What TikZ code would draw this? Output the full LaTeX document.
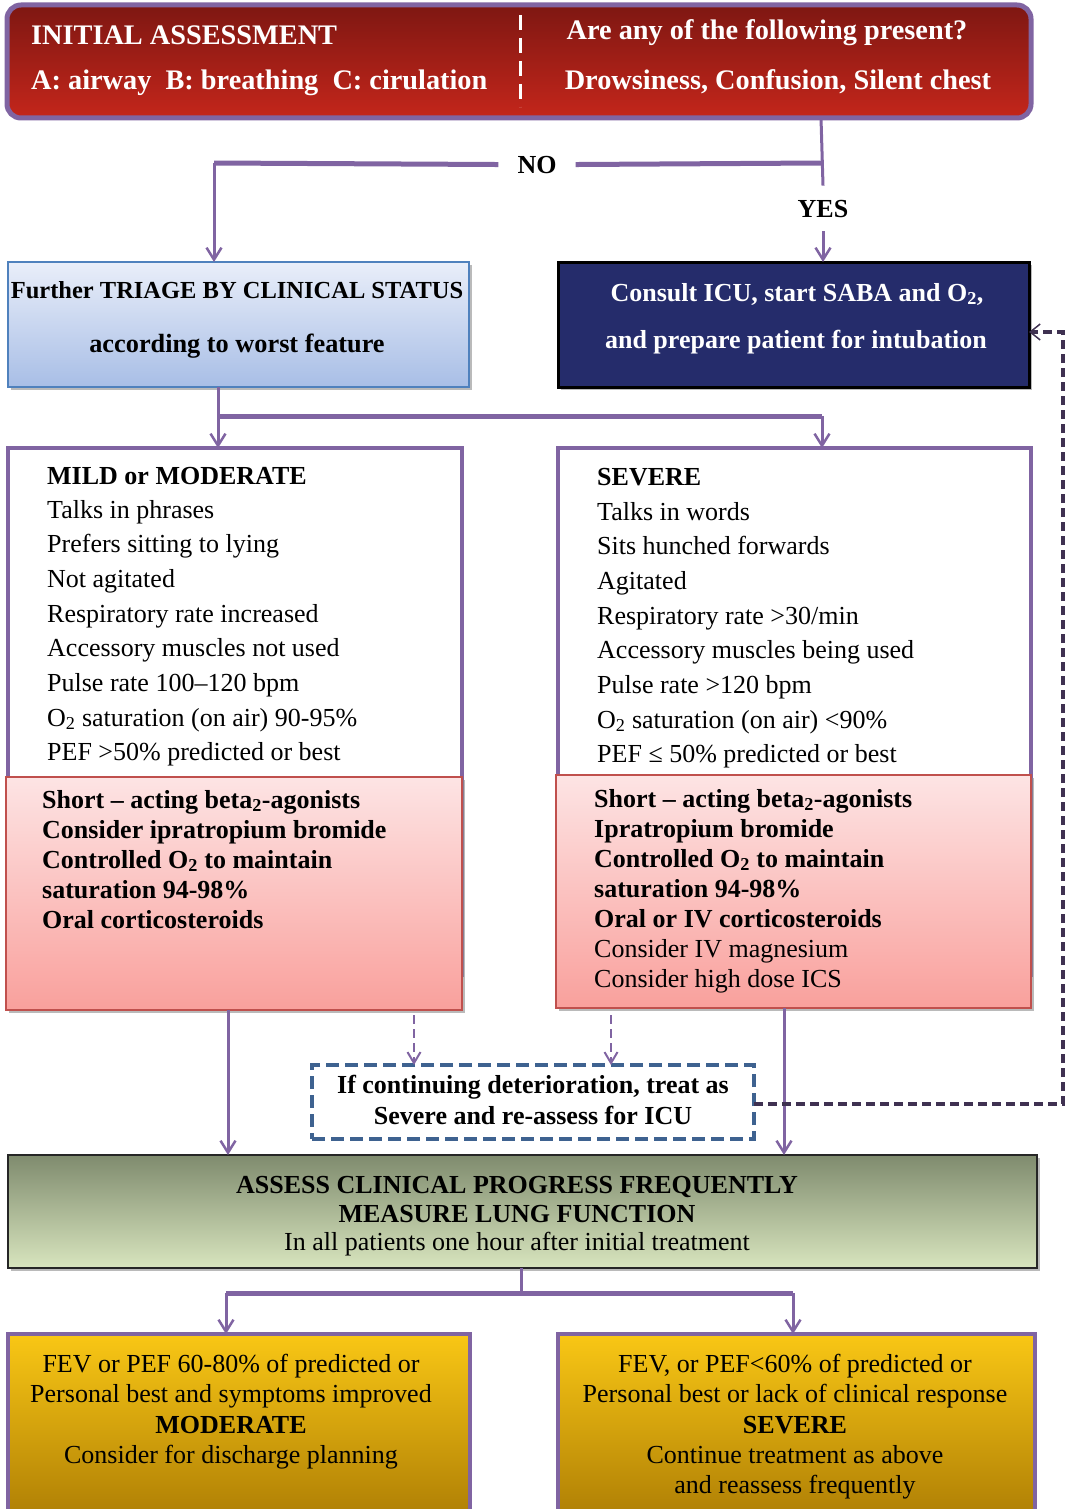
\documentclass[tikz,border=0pt]{standalone}
\usepackage{fontspec}
\setmainfont{Liberation Serif}
\usetikzlibrary{arrows.meta,shadows}
\definecolor{purp}{HTML}{8064A2}
\definecolor{redtop}{HTML}{7E1712}
\definecolor{redbot}{HTML}{C4261B}
\definecolor{bluetop}{HTML}{E9EEF9}
\definecolor{bluebot}{HTML}{A8BEE6}
\definecolor{blueline}{HTML}{4F81BD}
\definecolor{navy}{HTML}{252C6B}
\definecolor{pinktop}{HTML}{FDE4E4}
\definecolor{pinkbot}{HTML}{F9A09C}
\definecolor{pinkline}{HTML}{C0504D}
\definecolor{olivetop}{HTML}{7F8B6E}
\definecolor{olivebot}{HTML}{D8E5BE}
\definecolor{goldtop}{HTML}{F9C715}
\definecolor{goldbot}{HTML}{B08005}
\definecolor{dashblue}{HTML}{3E6290}
\definecolor{darkpurp}{HTML}{3F3151}
\tikzset{
  box/.style={rectangle, inner sep=0pt, outer sep=0pt},
  shad/.style={drop shadow={shadow xshift=3pt,shadow yshift=-3pt,fill=black!45,opacity=.6}},
  txt/.style={inner sep=0pt, font=\fontsize{26}{30}\selectfont},
  btxt/.style={inner sep=0pt, font=\bfseries\fontsize{26}{30}\selectfont},
  conn/.style={draw=purp, line width=3pt},
  bar/.style={draw=purp, line width=5pt},
  arr/.style={-{Straight Barb[length=12pt,width=15pt,line width=2.5pt]}},
  darr/.style={draw=purp, line width=2.5pt, dash pattern=on 9pt off 5pt,
    -{Straight Barb[length=11pt,width=13pt,line width=2pt]}},
  fback/.style={draw=darkpurp, line width=3.5pt, dash pattern=on 9pt off 5pt,
    -{Straight Barb[length=10pt,width=16pt,line width=1.5pt]}},
}
\begin{document}
\begin{tikzpicture}[x=1pt,y=-1pt]
\useasboundingbox (0,0) rectangle (1067,1509);

% ---------- boxes ----------
\node[box, draw=purp, line width=5pt, rounded corners=14pt, top color=redtop, bottom color=redbot,
  minimum width=1024, minimum height=113] (top) at (519,61.5) {};
\draw[white, line width=3pt, dash pattern=on 15pt off 8pt] (520,15) -- (520,107);

\node[box, shad, draw=blueline, line width=2pt, top color=bluetop, bottom color=bluebot,
  minimum width=461, minimum height=125] (triage) at (238.5,324.5) {};
\node[box, shad, draw=black, line width=3pt, fill=navy,
  minimum width=471, minimum height=125] (icu) at (793.5,324.5) {};

\node[box, draw=purp, line width=4pt, fill=white,
  minimum width=454, minimum height=527] (mild) at (235,711.5) {};
\node[box, shad, draw=pinkline, line width=2pt, top color=pinktop, bottom color=pinkbot,
  minimum width=456, minimum height=233] (mildred) at (234,893.5) {};

\node[box, draw=purp, line width=4pt, fill=white,
  minimum width=473, minimum height=527] (severe) at (794.5,711.5) {};
\node[box, shad, draw=pinkline, line width=2pt, top color=pinktop, bottom color=pinkbot,
  minimum width=475, minimum height=233] (severered) at (793.5,891.5) {};

\node[box, draw=dashblue, line width=4pt, dash pattern=on 13pt off 6pt, fill=white,
  minimum width=442, minimum height=74] (dashbox) at (533,1102) {};

\node[box, shad, draw=black!85, line width=2.5pt, top color=olivetop, bottom color=olivebot,
  minimum width=1029, minimum height=113] (assess) at (522.5,1211.5) {};

\node[box, draw=purp, line width=4pt, top color=goldtop, bottom color=goldbot,
  minimum width=462, minimum height=181] (botl) at (239,1424.5) {};
\node[box, draw=purp, line width=4pt, top color=goldtop, bottom color=goldbot,
  minimum width=477, minimum height=181] (botr) at (796.5,1424.5) {};

% ---------- texts ----------
\begin{scope}[every node/.append style={white, font=\bfseries\fontsize{28.3}{30}\selectfont, inner sep=0pt}]
\node[anchor=base west] (t1) at (31,45) {INITIAL ASSESSMENT};
\node[anchor=base west] (t2) at (31,90) {A: airway\ \ B: breathing\ \ C: cirulation};
\node[anchor=base] (t3) at (767,40) {Are any of the following present?};
\node[anchor=base] (t4) at (778,90) {Drowsiness, Confusion, Silent chest};
\end{scope}

\node[btxt, anchor=base, inner xsep=19pt] (no) at (537,173) {NO};
\node[btxt, anchor=base, inner ysep=14pt] (yes) at (823,217) {YES};

\node[inner sep=0pt, font=\bfseries\fontsize{24.5}{30}\selectfont, anchor=base] (tr1) at (237,298) {Further TRIAGE BY CLINICAL STATUS};
\node[inner sep=0pt, font=\bfseries\fontsize{26.3}{30}\selectfont, anchor=base] (tr2) at (237,352) {according to worst feature};

\node[btxt, white, anchor=base] (ic1) at (797,301) {Consult ICU, start SABA and O\textsubscript{2},};
\node[btxt, white, anchor=base] (ic2) at (796,348) {and prepare patient for intubation};

\node[btxt, anchor=base west] (mh) at (47,484) {MILD or MODERATE};
\foreach \t [count=\i from 0] in {Talks in phrases, Prefers sitting to lying, Not agitated,
  Respiratory rate increased, Accessory muscles not used, Pulse rate 100–120 bpm,
  {O\textsubscript{2} saturation (on air) 90-95\%}, {PEF >50\% predicted or best}}
  \node[txt, anchor=base west] (ml\i) at (47,518+34.7*\i) {\t};

\node[btxt, anchor=base west] (sh) at (597,485) {SEVERE};
\foreach \t [count=\i from 0] in {Talks in words, Sits hunched forwards, Agitated,
  Respiratory rate >30/min, Accessory muscles being used, Pulse rate >120 bpm,
  {O\textsubscript{2} saturation (on air) <90\%}, {PEF ≤ 50\% predicted or best}}
  \node[txt, anchor=base west] (sl\i) at (597,520+34.7*\i) {\t};

\foreach \t [count=\i from 0] in {Short – acting beta\textsubscript{2}-agonists, Consider ipratropium bromide,
  Controlled O\textsubscript{2} to maintain, saturation 94-98\%, Oral corticosteroids}
  \node[btxt, anchor=base west] (mr\i) at (42,808+30*\i) {\t};

\foreach \t [count=\i from 0] in {Short – acting beta\textsubscript{2}-agonists, Ipratropium bromide,
  Controlled O\textsubscript{2} to maintain, saturation 94-98\%, Oral or IV corticosteroids}
  \node[btxt, anchor=base west] (sr\i) at (594,807+30*\i) {\t};
\node[txt, anchor=base west] (sr5) at (594,957) {Consider IV magnesium};
\node[txt, anchor=base west] (sr6) at (594,987) {Consider high dose ICS};

\node[btxt, anchor=base] (dt1) at (533,1093) {If continuing deterioration, treat as};
\node[btxt, anchor=base] (dt2) at (533,1124) {Severe and re-assess for ICU};

\node[btxt, anchor=base] (as1) at (517,1193) {ASSESS CLINICAL PROGRESS FREQUENTLY};
\node[btxt, anchor=base] (as2) at (517,1222) {MEASURE LUNG FUNCTION};
\node[txt, anchor=base] (as3) at (517,1250) {In all patients one hour after initial treatment};

\node[txt, anchor=base] (bl1) at (231,1372) {FEV or PEF 60-80\% of predicted or};
\node[txt, anchor=base] (bl2) at (231,1402) {Personal best and symptoms improved};
\node[btxt, anchor=base] (bl3) at (231,1433) {MODERATE};
\node[txt, anchor=base] (bl4) at (231,1463) {Consider for discharge planning};

\node[txt, anchor=base] (br1) at (795,1372) {FEV, or PEF<60\% of predicted or};
\node[txt, anchor=base] (br2) at (795,1402) {Personal best or lack of clinical response};
\node[btxt, anchor=base] (br3) at (795,1433) {SEVERE};
\node[txt, anchor=base] (br4) at (795,1463) {Continue treatment as above};
\node[txt, anchor=base] (br5) at (795,1493) {and reassess frequently};

% ---------- connectors ----------
\coordinate (jy) at (821,163);
\coordinate (jl) at (214,163);
\draw[conn] (top.south -| jy) -- (yes.north);
\draw[conn, arr] (yes.south) -- (icu.north -| yes.south);
\draw[bar] (jy) -- (no.east);
\draw[bar] (no.west) -- (jl);
\draw[conn, arr] (jl) -- (triage.north -| jl);

\coordinate (b1) at (218,416);
\coordinate (b2) at (822,416);
\draw[conn] (triage.south -| b1) -- (b1);
\draw[bar] (b1) -- (b2);
\draw[conn, arr] (b1) -- (mild.north -| b1);
\draw[conn, arr] (b2) -- (severe.north -| b2);

\coordinate (c1) at (228,1100);
\coordinate (c2) at (784,1100);
\draw[conn, arr] (mildred.south -| c1) -- (assess.north -| c1);
\draw[conn, arr] (severered.south -| c2) -- (assess.north -| c2);

\coordinate (d1) at (414,1015);
\coordinate (d2) at (611,1015);
\draw[darr] (d1) -- (dashbox.north -| d1);
\draw[darr] (d2) -- (dashbox.north -| d2);

\coordinate (fb1) at (1063,1104);
\coordinate (fb2) at (1063,332);
\draw[fback] (dashbox.east |- fb1) -- (fb1) -- (fb2) -- (icu.east |- fb2);

\coordinate (a1) at (521,1293);
\coordinate (al) at (226,1293);
\coordinate (ar) at (793,1293);
\draw[conn] (assess.south -| a1) -- (a1);
\draw[bar] (al) -- (ar);
\draw[conn, arr] (al) -- (botl.north -| al);
\draw[conn, arr] (ar) -- (botr.north -| ar);
\end{tikzpicture}
\end{document}
